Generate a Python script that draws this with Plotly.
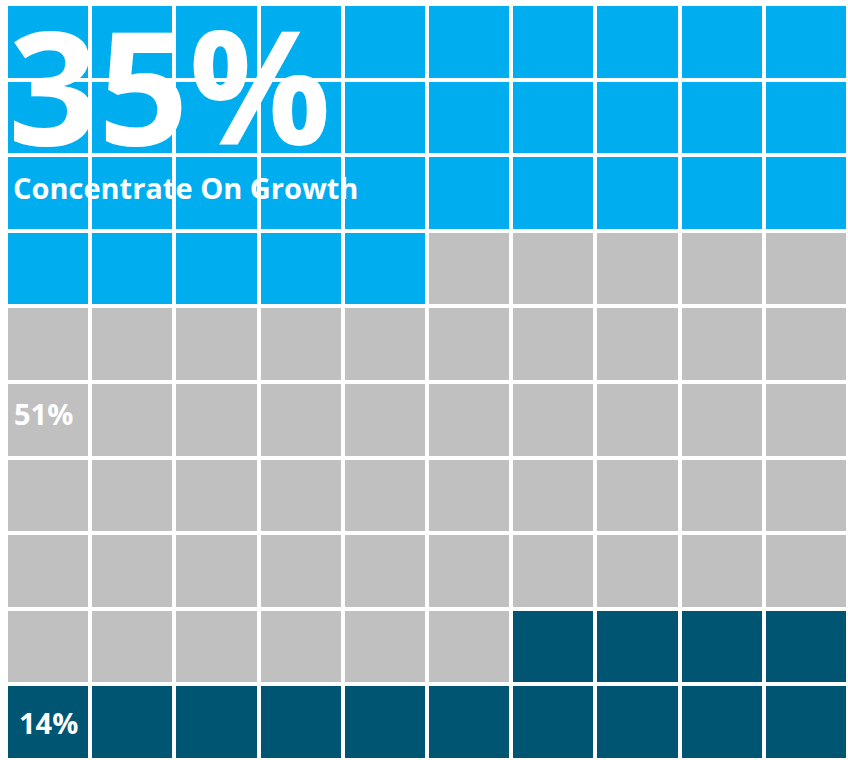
import plotly.graph_objects as go

categories = ["Concentrate On Growth", "Other", "Remaining"]
values = [35, 51, 14]
labels = ["35%", "51%", "14%"]
colors = ["#00AEEF", "#C0C0C0", "#005573"]

ncols, nrows = 10, 10
flat = []
for i, v in enumerate(values):
    flat += [i] * v
z = [flat[r * ncols:(r + 1) * ncols] for r in range(nrows)]

colorscale = [
    [0.0, colors[0]], [1/3, colors[0]],
    [1/3, colors[1]], [2/3, colors[1]],
    [2/3, colors[2]], [1.0, colors[2]],
]

fig = go.Figure(go.Heatmap(
    z=z, x=list(range(ncols)), y=list(range(nrows)),
    zmin=-0.5, zmax=2.5, colorscale=colorscale, showscale=False,
    xgap=4, ygap=4, hoverinfo="skip",
))

font = dict(family="Open Sans", color="white", weight="bold")
fig.add_annotation(x=0.0, y=1.0, xref="paper", yref="paper", xanchor="left", yanchor="top",
                   xshift=0, yshift=30, text=labels[0], showarrow=False,
                   font=dict(font, size=158))
fig.add_annotation(x=0.0, y=1.0, xref="paper", yref="paper", xanchor="left", yanchor="middle",
                   xshift=5, yshift=-183, text=categories[0], showarrow=False,
                   font=dict(font, size=29))
fig.add_annotation(x=0, y=5, xref="x", yref="y", xanchor="left", yanchor="middle",
                   xshift=-36, yshift=6, text=labels[1], showarrow=False, font=dict(font, size=29))
fig.add_annotation(x=0, y=9, xref="x", yref="y", xanchor="left", yanchor="middle",
                   xshift=-31, text=labels[2], showarrow=False, font=dict(font, size=29))

fig.update_xaxes(visible=False, range=[-0.5, 9.5])
fig.update_yaxes(visible=False, range=[9.5, -0.5])
fig.update_layout(width=848, height=760, margin=dict(l=6, r=0, t=4, b=0),
                  paper_bgcolor="white", plot_bgcolor="white")
fig.write_html("out.html")
